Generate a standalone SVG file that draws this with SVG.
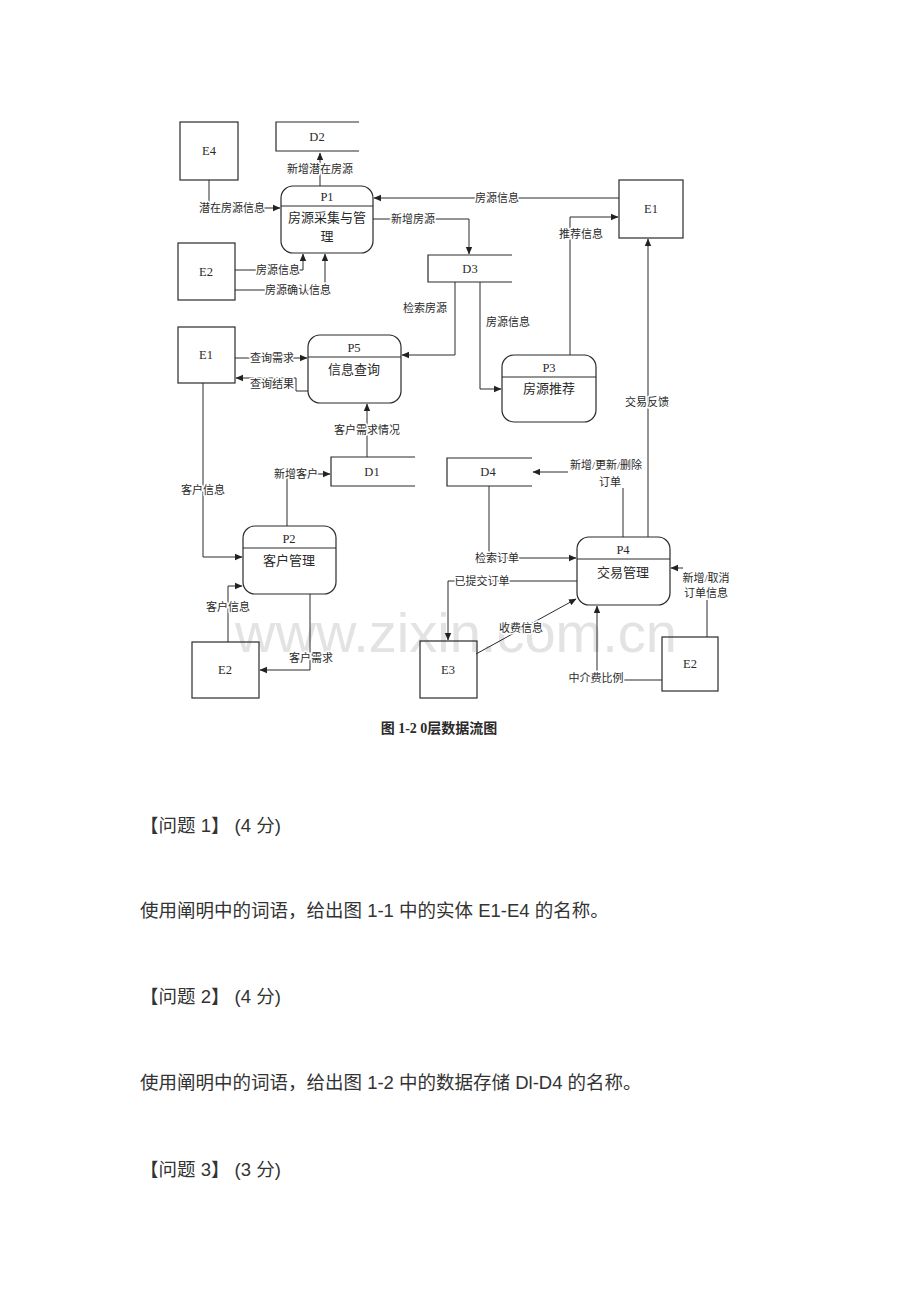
<svg xmlns="http://www.w3.org/2000/svg" width="920" height="1302" viewBox="0 0 920 1302">
<style>
.box{fill:none;stroke:#2a2a2a;stroke-width:1.2}
.ln{fill:none;stroke:#2a2a2a;stroke-width:1}
.ds{fill:none;stroke:#2a2a2a;stroke-width:1.2}
.t{font-family:"Liberation Serif","Noto Sans CJK SC",serif;fill:#2a2a2a;text-anchor:middle}
.lb{font-size:11px;paint-order:stroke;stroke:#fff;stroke-width:3px;stroke-linejoin:round}
.nm{font-size:13px}
.id{font-size:12.5px}
.q{font-family:"Liberation Sans","Noto Sans CJK SC",sans-serif;font-size:18.5px;fill:#333}
.wm{font-family:"Liberation Sans",Arial,sans-serif;font-size:56px;fill:#e3e3e3}
</style>
<defs>
<marker id="ar" markerWidth="8" markerHeight="8" refX="7" refY="4" orient="auto" markerUnits="userSpaceOnUse">
<path d="M0,0.8 L7.5,4 L0,7.2 Z" fill="#222"/>
</marker>
</defs>
<rect width="920" height="1302" fill="#fff"/>
<text class="wm" x="235" y="652">www.zixin.com.cn</text>

<g id="E4"><rect class="box" x="180" y="122" width="58" height="58"/><text class="t id" x="209" y="155">E4</text></g>
<g id="E2a"><rect class="box" x="178" y="243" width="57" height="57"/><text class="t id" x="206" y="276">E2</text></g>
<g id="E1a"><rect class="box" x="619" y="180" width="64" height="58"/><text class="t id" x="651" y="213">E1</text></g>
<g id="E1b"><rect class="box" x="178" y="327" width="57" height="56"/><text class="t id" x="206" y="359">E1</text></g>
<g id="E2b"><rect class="box" x="192" y="642" width="67" height="56"/><text class="t id" x="225" y="674">E2</text></g>
<g id="E3"><rect class="box" x="420" y="641" width="57" height="57"/><text class="t id" x="448" y="674">E3</text></g>
<g id="E2c"><rect class="box" x="662" y="637" width="56" height="54"/><text class="t id" x="690" y="668">E2</text></g>

<g id="D2"><path class="ds" d="M359,122 H276 V151 H359"/><text class="t id" x="317" y="141">D2</text></g>
<g id="D3"><path class="ds" d="M512,255 H428 V282 H512"/><text class="t id" x="470" y="273">D3</text></g>
<g id="D1"><path class="ds" d="M415,457 H331 V486 H415"/><text class="t id" x="372" y="476">D1</text></g>
<g id="D4"><path class="ds" d="M532,458 H447 V486 H532"/><text class="t id" x="488" y="476">D4</text></g>

<g id="P1"><rect class="box" x="281" y="186" width="92" height="67" rx="12"/><line class="ln" x1="281" y1="206" x2="373" y2="206"/><text class="t id" x="327" y="201">P1</text><text class="t nm" x="327" y="222">房源采集与管</text><text class="t nm" x="327" y="241">理</text></g>
<g id="P5"><rect class="box" x="308" y="335" width="93" height="68" rx="12"/><line class="ln" x1="308" y1="357" x2="401" y2="357"/><text class="t id" x="354" y="352">P5</text><text class="t nm" x="354" y="374">信息查询</text></g>
<g id="P3"><rect class="box" x="502" y="355" width="94" height="67" rx="12"/><line class="ln" x1="502" y1="377" x2="596" y2="377"/><text class="t id" x="549" y="372">P3</text><text class="t nm" x="549" y="393">房源推荐</text></g>
<g id="P2"><rect class="box" x="243" y="526" width="93" height="68" rx="12"/><line class="ln" x1="243" y1="548" x2="336" y2="548"/><text class="t id" x="289" y="543">P2</text><text class="t nm" x="289" y="565">客户管理</text></g>
<g id="P4"><rect class="box" x="577" y="537" width="93" height="68" rx="12"/><line class="ln" x1="577" y1="559" x2="670" y2="559"/><text class="t id" x="623" y="554">P4</text><text class="t nm" x="623" y="577">交易管理</text></g>

<g id="connectors">
<path class="ln" d="M320,186 V153" marker-end="url(#ar)"/>
<text class="t lb" x="320" y="173">新增潜在房源</text>
<path class="ln" d="M209,180 V208 H280" marker-end="url(#ar)"/>
<text class="t lb" x="232" y="212">潜在房源信息</text>
<path class="ln" d="M235,270 H303 V254" marker-end="url(#ar)"/>
<text class="t lb" x="278" y="274">房源信息</text>
<path class="ln" d="M235,290 H325 V254" marker-end="url(#ar)"/>
<text class="t lb" x="298" y="294">房源确认信息</text>
<path class="ln" d="M619,198 H374" marker-end="url(#ar)"/>
<text class="t lb" x="497" y="202">房源信息</text>
<path class="ln" d="M373,219 H469 V254" marker-end="url(#ar)"/>
<text class="t lb" x="413" y="223">新增房源</text>
<path class="ln" d="M455,282 V355 H402" marker-end="url(#ar)"/>
<text class="t lb" x="425" y="312">检索房源</text>
<path class="ln" d="M480,282 V389 H501" marker-end="url(#ar)"/>
<text class="t lb" x="508" y="326">房源信息</text>
<path class="ln" d="M570,355 V217 H618" marker-end="url(#ar)"/>
<text class="t lb" x="581" y="238">推荐信息</text>
<path class="ln" d="M648,537 V239" marker-end="url(#ar)"/>
<text class="t lb" x="647" y="406">交易反馈</text>
<path class="ln" d="M235,358 H307" marker-end="url(#ar)"/>
<text class="t lb" x="272" y="362">查询需求</text>
<path class="ln" d="M308,391 H296 V378 H236" marker-end="url(#ar)"/>
<text class="t lb" x="272" y="388">查询结果</text>
<path class="ln" d="M367,457 V404" marker-end="url(#ar)"/>
<text class="t lb" x="367" y="434">客户需求情况</text>
<path class="ln" d="M287,526 V474 H330" marker-end="url(#ar)"/>
<text class="t lb" x="296" y="478">新增客户</text>
<path class="ln" d="M203,383 V557 H242" marker-end="url(#ar)"/>
<text class="t lb" x="203" y="494">客户信息</text>
<path class="ln" d="M228,642 V586 H242" marker-end="url(#ar)"/>
<text class="t lb" x="228" y="611">客户信息</text>
<path class="ln" d="M310,594 V670 H260" marker-end="url(#ar)"/>
<text class="t lb" x="311" y="662">客户需求</text>
<path class="ln" d="M623,537 V488"/>
<path class="ln" d="M568,472 H533" marker-end="url(#ar)"/>
<text class="t lb" x="606" y="469">新增/更新/删除</text>
<text class="t lb" x="610" y="486">订单</text>
<path class="ln" d="M489,486 V558 H576" marker-end="url(#ar)"/>
<text class="t lb" x="497" y="562">检索订单</text>
<path class="ln" d="M577,581 H448 V640" marker-end="url(#ar)"/>
<text class="t lb" x="482" y="585">已提交订单</text>
<path class="ln" d="M476,654 L576,599" marker-end="url(#ar)"/>
<text class="t lb" x="521" y="632">收费信息</text>
<path class="ln" d="M662,680 H597 V606" marker-end="url(#ar)"/>
<text class="t lb" x="596" y="682">中介费比例</text>
<path class="ln" d="M707,637 V600"/>
<path class="ln" d="M683,568 H671" marker-end="url(#ar)"/>
<text class="t lb" x="706" y="582">新增/取消</text>
<text class="t lb" x="706" y="597">订单信息</text>
</g>

<text class="t" x="439" y="733" style="font-size:14px;font-weight:bold">图 1-2 0层数据流图</text>

<text class="q" x="140" y="832">【问题 1】 (4 分)</text>
<text class="q" x="140" y="917">使用阐明中的词语，给出图 1-1 中的实体 E1-E4 的名称。</text>
<text class="q" x="140" y="1003">【问题 2】 (4 分)</text>
<text class="q" x="140" y="1089">使用阐明中的词语，给出图 1-2 中的数据存储 Dl-D4 的名称。</text>
<text class="q" x="140" y="1176">【问题 3】 (3 分)</text>
</svg>
